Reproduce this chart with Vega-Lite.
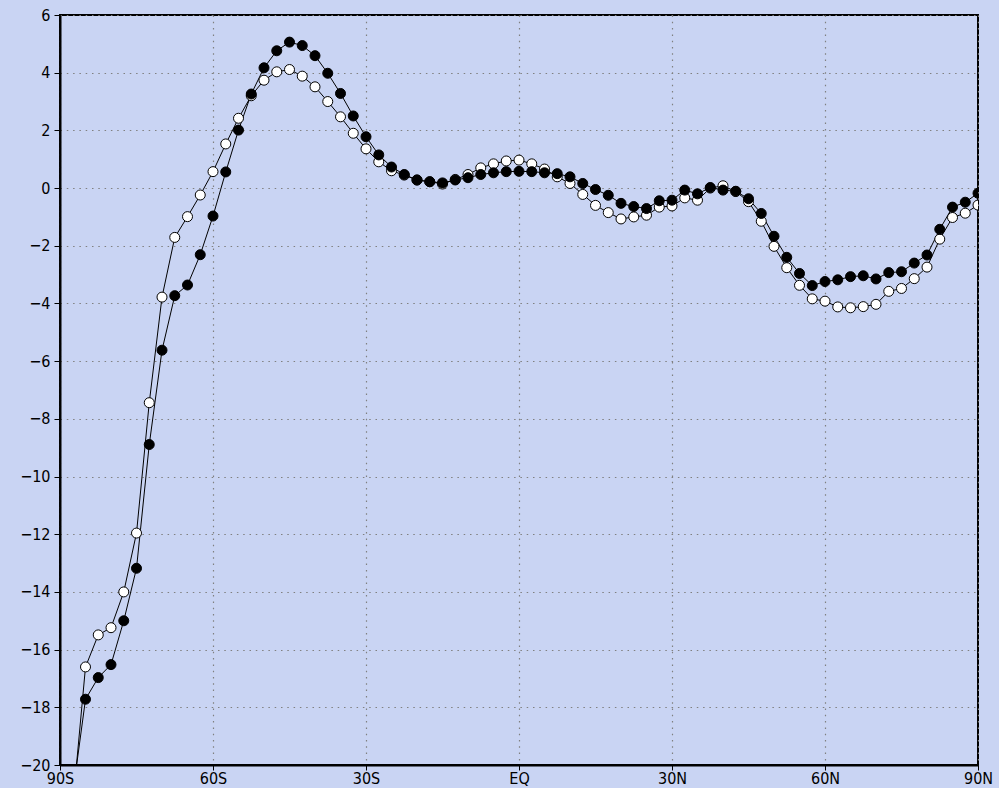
{
  "$schema": "https://vega.github.io/schema/vega-lite/v6.json",
  "width": 918,
  "height": 750,
  "autosize": {"type": "none"},
  "padding": {"left": 60, "top": 15, "right": 21, "bottom": 23},
  "background": "#c9d4f3",
  "config": {
    "view": {"stroke": "black", "strokeWidth": 2, "fill": "#c9d4f3"},
    "axis": {
      "labelFont": "Liberation Sans Narrow, DejaVu Sans Condensed, DejaVu Sans",
      "labelFontSize": 16,
      "labelColor": "black",
      "domainColor": "black",
      "domainWidth": 2,
      "tickColor": "black",
      "tickWidth": 1,
      "gridColor": "#808080",
      "gridDash": [1.5, 4.8],
      "gridWidth": 1.2,
      "gridOpacity": 1
    }
  },
  "datasets": {
    "profiles": [
      {"series": "open", "lat": -87.5, "value": -21.4},
      {"series": "open", "lat": -85, "value": -16.6},
      {"series": "open", "lat": -82.5, "value": -15.49},
      {"series": "open", "lat": -80, "value": -15.24},
      {"series": "open", "lat": -77.5, "value": -14.0},
      {"series": "open", "lat": -75, "value": -11.96},
      {"series": "open", "lat": -72.5, "value": -7.44},
      {"series": "open", "lat": -70, "value": -3.78},
      {"series": "open", "lat": -67.5, "value": -1.71},
      {"series": "open", "lat": -65, "value": -0.99},
      {"series": "open", "lat": -62.5, "value": -0.24},
      {"series": "open", "lat": -60, "value": 0.57},
      {"series": "open", "lat": -57.5, "value": 1.53},
      {"series": "open", "lat": -55, "value": 2.42},
      {"series": "open", "lat": -52.5, "value": 3.2},
      {"series": "open", "lat": -50, "value": 3.74},
      {"series": "open", "lat": -47.5, "value": 4.03},
      {"series": "open", "lat": -45, "value": 4.11},
      {"series": "open", "lat": -42.5, "value": 3.88},
      {"series": "open", "lat": -40, "value": 3.51},
      {"series": "open", "lat": -37.5, "value": 3.0},
      {"series": "open", "lat": -35, "value": 2.47},
      {"series": "open", "lat": -32.5, "value": 1.9},
      {"series": "open", "lat": -30, "value": 1.36},
      {"series": "open", "lat": -27.5, "value": 0.91},
      {"series": "open", "lat": -25, "value": 0.6},
      {"series": "open", "lat": -22.5, "value": 0.45},
      {"series": "open", "lat": -20, "value": 0.28},
      {"series": "open", "lat": -17.5, "value": 0.22},
      {"series": "open", "lat": -15, "value": 0.14},
      {"series": "open", "lat": -12.5, "value": 0.3},
      {"series": "open", "lat": -10, "value": 0.47},
      {"series": "open", "lat": -7.5, "value": 0.7},
      {"series": "open", "lat": -5, "value": 0.84},
      {"series": "open", "lat": -2.5, "value": 0.94},
      {"series": "open", "lat": 0, "value": 0.97},
      {"series": "open", "lat": 2.5, "value": 0.84},
      {"series": "open", "lat": 5, "value": 0.66},
      {"series": "open", "lat": 7.5, "value": 0.39},
      {"series": "open", "lat": 10, "value": 0.16},
      {"series": "open", "lat": 12.5, "value": -0.22},
      {"series": "open", "lat": 15, "value": -0.6},
      {"series": "open", "lat": 17.5, "value": -0.85},
      {"series": "open", "lat": 20, "value": -1.07},
      {"series": "open", "lat": 22.5, "value": -1.0},
      {"series": "open", "lat": 25, "value": -0.94},
      {"series": "open", "lat": 27.5, "value": -0.66},
      {"series": "open", "lat": 30, "value": -0.62},
      {"series": "open", "lat": 32.5, "value": -0.34},
      {"series": "open", "lat": 35, "value": -0.42},
      {"series": "open", "lat": 37.5, "value": 0.0},
      {"series": "open", "lat": 40, "value": 0.08},
      {"series": "open", "lat": 42.5, "value": -0.12},
      {"series": "open", "lat": 45, "value": -0.47},
      {"series": "open", "lat": 47.5, "value": -1.15},
      {"series": "open", "lat": 50, "value": -2.02},
      {"series": "open", "lat": 52.5, "value": -2.76},
      {"series": "open", "lat": 55, "value": -3.37},
      {"series": "open", "lat": 57.5, "value": -3.84},
      {"series": "open", "lat": 60, "value": -3.92},
      {"series": "open", "lat": 62.5, "value": -4.12},
      {"series": "open", "lat": 65, "value": -4.15},
      {"series": "open", "lat": 67.5, "value": -4.11},
      {"series": "open", "lat": 70, "value": -4.03},
      {"series": "open", "lat": 72.5, "value": -3.58},
      {"series": "open", "lat": 75, "value": -3.48},
      {"series": "open", "lat": 77.5, "value": -3.14},
      {"series": "open", "lat": 80, "value": -2.74},
      {"series": "open", "lat": 82.5, "value": -1.77},
      {"series": "open", "lat": 85, "value": -1.02},
      {"series": "open", "lat": 87.5, "value": -0.87},
      {"series": "open", "lat": 90, "value": -0.59},
      {"series": "filled", "lat": -87.5, "value": -21.0},
      {"series": "filled", "lat": -85, "value": -17.72},
      {"series": "filled", "lat": -82.5, "value": -16.97},
      {"series": "filled", "lat": -80, "value": -16.52},
      {"series": "filled", "lat": -77.5, "value": -15.0},
      {"series": "filled", "lat": -75, "value": -13.18},
      {"series": "filled", "lat": -72.5, "value": -8.89},
      {"series": "filled", "lat": -70, "value": -5.62},
      {"series": "filled", "lat": -67.5, "value": -3.73},
      {"series": "filled", "lat": -65, "value": -3.36},
      {"series": "filled", "lat": -62.5, "value": -2.31},
      {"series": "filled", "lat": -60, "value": -0.97},
      {"series": "filled", "lat": -57.5, "value": 0.56},
      {"series": "filled", "lat": -55, "value": 2.01},
      {"series": "filled", "lat": -52.5, "value": 3.26},
      {"series": "filled", "lat": -50, "value": 4.17},
      {"series": "filled", "lat": -47.5, "value": 4.76},
      {"series": "filled", "lat": -45, "value": 5.06},
      {"series": "filled", "lat": -42.5, "value": 4.94},
      {"series": "filled", "lat": -40, "value": 4.59},
      {"series": "filled", "lat": -37.5, "value": 3.98},
      {"series": "filled", "lat": -35, "value": 3.28},
      {"series": "filled", "lat": -32.5, "value": 2.5},
      {"series": "filled", "lat": -30, "value": 1.78},
      {"series": "filled", "lat": -27.5, "value": 1.15},
      {"series": "filled", "lat": -25, "value": 0.73},
      {"series": "filled", "lat": -22.5, "value": 0.47},
      {"series": "filled", "lat": -20, "value": 0.28},
      {"series": "filled", "lat": -17.5, "value": 0.22},
      {"series": "filled", "lat": -15, "value": 0.18},
      {"series": "filled", "lat": -12.5, "value": 0.28},
      {"series": "filled", "lat": -10, "value": 0.36},
      {"series": "filled", "lat": -7.5, "value": 0.47},
      {"series": "filled", "lat": -5, "value": 0.53},
      {"series": "filled", "lat": -2.5, "value": 0.57},
      {"series": "filled", "lat": 0, "value": 0.58},
      {"series": "filled", "lat": 2.5, "value": 0.57},
      {"series": "filled", "lat": 5, "value": 0.53},
      {"series": "filled", "lat": 7.5, "value": 0.5},
      {"series": "filled", "lat": 10, "value": 0.39},
      {"series": "filled", "lat": 12.5, "value": 0.16},
      {"series": "filled", "lat": 15, "value": -0.05},
      {"series": "filled", "lat": 17.5, "value": -0.25},
      {"series": "filled", "lat": 20, "value": -0.53},
      {"series": "filled", "lat": 22.5, "value": -0.64},
      {"series": "filled", "lat": 25, "value": -0.71},
      {"series": "filled", "lat": 27.5, "value": -0.44},
      {"series": "filled", "lat": 30, "value": -0.42},
      {"series": "filled", "lat": 32.5, "value": -0.07},
      {"series": "filled", "lat": 35, "value": -0.2},
      {"series": "filled", "lat": 37.5, "value": 0.02},
      {"series": "filled", "lat": 40, "value": -0.07},
      {"series": "filled", "lat": 42.5, "value": -0.11},
      {"series": "filled", "lat": 45, "value": -0.37},
      {"series": "filled", "lat": 47.5, "value": -0.88},
      {"series": "filled", "lat": 50, "value": -1.67},
      {"series": "filled", "lat": 52.5, "value": -2.4},
      {"series": "filled", "lat": 55, "value": -2.96},
      {"series": "filled", "lat": 57.5, "value": -3.38},
      {"series": "filled", "lat": 60, "value": -3.24},
      {"series": "filled", "lat": 62.5, "value": -3.18},
      {"series": "filled", "lat": 65, "value": -3.07},
      {"series": "filled", "lat": 67.5, "value": -3.04},
      {"series": "filled", "lat": 70, "value": -3.15},
      {"series": "filled", "lat": 72.5, "value": -2.93},
      {"series": "filled", "lat": 75, "value": -2.9},
      {"series": "filled", "lat": 77.5, "value": -2.6},
      {"series": "filled", "lat": 80, "value": -2.32},
      {"series": "filled", "lat": 82.5, "value": -1.43},
      {"series": "filled", "lat": 85, "value": -0.66},
      {"series": "filled", "lat": 87.5, "value": -0.49},
      {"series": "filled", "lat": 90, "value": -0.18}
    ]
  },
  "data": {"name": "profiles"},
  "encoding": {
    "x": {
      "field": "lat",
      "type": "quantitative",
      "scale": {"domain": [-90, 90], "nice": false, "zero": false},
      "axis": {
        "title": null,
        "values": [-90, -60, -30, 0, 30, 60, 90],
        "labelExpr": "datum.value == 0 ? 'EQ' : (abs(datum.value) + (datum.value < 0 ? 'S' : 'N'))",
        "tickSize": 5,
        "labelPadding": 0,
        "labelFlush": false,
        "labelOverlap": false
      }
    },
    "y": {
      "field": "value",
      "type": "quantitative",
      "scale": {"domain": [-20, 6], "nice": false, "zero": false},
      "axis": {
        "title": null,
        "values": [-20, -18, -16, -14, -12, -10, -8, -6, -4, -2, 0, 2, 4, 6],
        "tickSize": 6,
        "labelPadding": 4,
        "labelFlush": false,
        "labelOverlap": false
      }
    }
  },
  "layer": [
    {
      "mark": {"type": "line", "color": "black", "strokeWidth": 1, "clip": true},
      "encoding": {"detail": {"field": "series"}}
    },
    {
      "mark": {"type": "point", "shape": "circle", "size": 100, "filled": true, "stroke": "black", "strokeWidth": 1, "opacity": 1, "clip": true},
      "encoding": {
        "fill": {
          "field": "series",
          "type": "nominal",
          "scale": {"domain": ["open", "filled"], "range": ["white", "black"]},
          "legend": null
        }
      }
    }
  ]
}
